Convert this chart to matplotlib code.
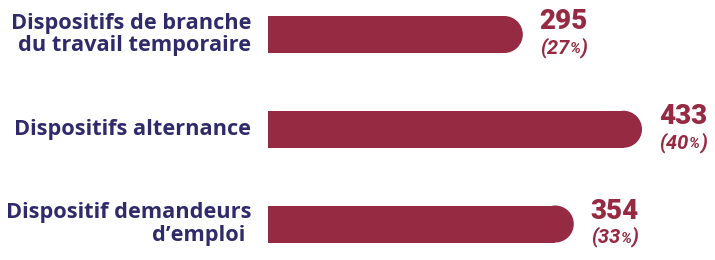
import matplotlib
matplotlib.use("Agg")
from matplotlib import pyplot as plt
from matplotlib.patches import Ellipse
from matplotlib.offsetbox import TextArea, HPacker, AnnotationBbox

# data
labels = ["Dispositifs de branche\ndu travail temporaire",
          "Dispositifs alternance",
          "Dispositif demandeurs\nd\u2019emploi "]
values = [295, 433, 354]
shares = ["27", "40", "33"]

BAR = "#952a42"
NAVY = "#2f2b6b"

fig = plt.figure(figsize=(7.15, 2.6), dpi=100)
# axes placed so that 0 sits at the left edge of the bars
ax = fig.add_axes([268 / 715, 0, 447 / 715, 1])
px_per_unit = 374 / 433
ax.set_xlim(0, 447 / px_per_unit)
row_px = 94.75
ax.set_ylim(2 + (260 - 224) / row_px, -34.5 / row_px)
ax.axis("off")

h = 37 / row_px
rx = 18.5 / px_per_unit
ys = list(range(len(values)))

# square left part + round right end
ax.barh(ys, [v - rx for v in values], height=h, color=BAR, linewidth=0)
for y, v in zip(ys, values):
    ax.add_patch(Ellipse((v - rx, y), 2 * rx, h, facecolor=BAR,
                         edgecolor="none"))

pct_style = dict(color=BAR, fontsize=14.5, fontweight="semibold",
                 style="italic", family="Roboto")
for y, lab, v, s in zip(ys, labels, values, shares):
    ax.annotate(lab, (0, y), xytext=(-17, 0), textcoords="offset pixels",
                ha="right", va="center", color=NAVY, fontsize=15.7,
                fontweight="bold", family="Open Sans", linespacing=1.1,
                annotation_clip=False)
    ax.annotate(str(v), (v, y), xytext=(41, 13), textcoords="offset pixels",
                ha="center", va="center", color=BAR, fontsize=20,
                fontweight="black", family="Roboto", annotation_clip=False)
    small = dict(pct_style, fontsize=11)
    box = HPacker(children=[TextArea(f"({s}", textprops=pct_style),
                            TextArea("%", textprops=small),
                            TextArea(")", textprops=pct_style)],
                  align="baseline", pad=0, sep=0)
    ab = AnnotationBbox(box, (v, y), xybox=(41, -13), boxcoords="offset pixels",
                        frameon=False, box_alignment=(0.5, 0.5),
                        annotation_clip=False)
    ax.add_artist(ab)

fig.savefig("out.png", dpi=100)
